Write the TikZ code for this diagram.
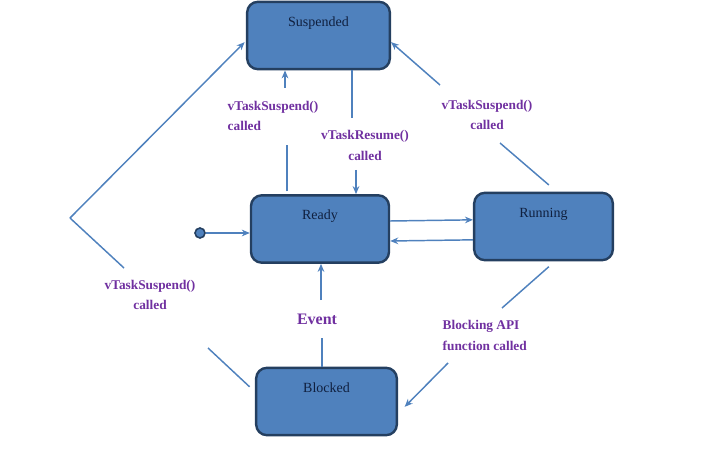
\documentclass[tikz,border=0pt]{standalone}
\usepackage{fontspec}
\setmainfont{Liberation Serif}
\usetikzlibrary{arrows.meta}
\definecolor{stateblue}{HTML}{4F81BD}
\definecolor{stateborder}{HTML}{243F60}
\definecolor{statetext}{HTML}{10203F}
\definecolor{labelpurple}{HTML}{7030A0}
\begin{document}
\begin{tikzpicture}[x=0.75pt,y=-0.75pt,
	state node/.style={rectangle,rounded corners=8pt,draw=stateborder,line width=1.8pt,fill=stateblue,
		text=statetext,font=\fontsize{10.5}{12}\selectfont,inner sep=0pt,
		text height=8pt,text depth=22pt,minimum width=#1,minimum height=50.5pt},
	start node/.style={circle,draw=stateborder,line width=1.2pt,fill=stateblue,minimum size=7.5pt,inner sep=0pt},
	flow/.style={draw=stateblue,line width=1.1pt,-{Stealth[length=6pt,width=5pt]}},
	flow line/.style={draw=stateblue,line width=1.1pt},
	call label/.style={text=labelpurple,font=\bfseries\fontsize{10}{15.5}\selectfont}
]

	\useasboundingbox (0,0) rectangle (721,449);

	\node[state node=107pt] at (318.5,35.5) (susp) {Suspended};
	\node[state node=103.5pt] at (320,229) (ready) {Ready};
	\node[state node=104pt] at (543.5,226.5) (run) {Running};
	\node[state node=105.5pt] at (326.5,401.5) (block) {Blocked};
	\node[start node] at (200,233) (init) {};

	\node[call label,anchor=west,align=left] at (223,116) (L1) {vTaskSuspend()\\called};
	\node[call label,align=center] at (365,145.5) (L2) {vTaskResume()\\called};
	\node[call label,align=center] at (487,115) (L3) {vTaskSuspend()\\called};
	\node[call label,align=center] at (150,295) (L4) {vTaskSuspend()\\called};
	\node[call label,font=\bfseries\fontsize{12}{14}\selectfont] at (317,319) (L5) {Event};
	\node[call label,anchor=west,align=left] at (438,335.5) (L6) {Blocking API\\function called};

	\coordinate (a1) at (287,145);
	\coordinate (a2) at (285,88);
	\coordinate (b1) at (352,118);
	\coordinate (b2) at (356,170);
	\coordinate (c1) at (500,143);
	\coordinate (c2) at (440,85);
	\coordinate (d1) at (208,348);
	\coordinate (d2) at (124,268);
	\coordinate (d3) at (70,218);
	\coordinate (e1) at (322,338);
	\coordinate (e2) at (321,300);
	\coordinate (f1) at (502,308);
	\coordinate (f2) at (448,363);

	\draw[flow] (init) -- (init -| ready.west);
	\draw[flow] ([yshift=6pt]ready.east) -- ([yshift=5pt]run.west);
	\draw[flow] ([yshift=-10pt]run.west) -- ([yshift=-9pt]ready.east);

	\draw[flow line] ([yshift=2pt]a1 |- ready.north) -- (a1);
	\draw[flow] (a2) -- (a2 |- susp.south);

	\draw[flow line] (b1 |- susp.south) -- (b1);
	\draw[flow] (b2) -- (b2 |- ready.north);

	\draw[flow line] ([xshift=4pt,yshift=5pt]run.north) -- (c1);
	\draw[flow] (c2) -- ([yshift=-5pt]susp.east);

	\draw[flow line] ([xshift=-4pt,yshift=11pt]block.west) -- (d1);
	\draw[flow line] (d2) -- (d3);
	\draw[flow] (d3) -- ([xshift=-1pt,yshift=-5pt]susp.west);

	\draw[flow line] (e1 |- block.north) -- (e1);
	\draw[flow] (e2) -- (e2 |- ready.south);

	\draw[flow line] ([xshift=4pt,yshift=-4pt]run.south) -- (f1);
	\draw[flow] (f2) -- ([xshift=5pt,yshift=-4pt]block.east);
\end{tikzpicture}
\end{document}
